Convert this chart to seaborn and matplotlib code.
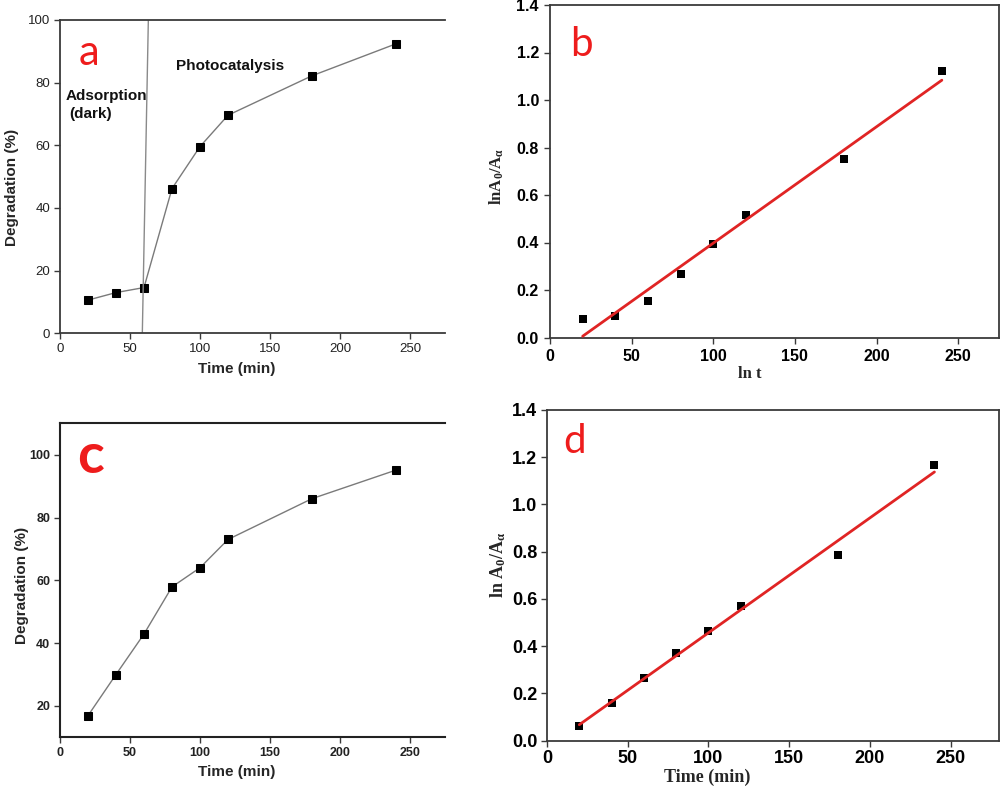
import numpy as np
import pandas as pd
import matplotlib
matplotlib.use("Agg")
import matplotlib.pyplot as plt
import seaborn as sns

# ---------------- data ----------------
time_min = [20, 40, 60, 80, 100, 120, 180, 240]
deg_a = [10.6, 13.0, 14.6, 46.2, 59.6, 69.6, 82.2, 92.4]
ln_b = [0.079, 0.090, 0.155, 0.269, 0.395, 0.515, 0.750, 1.122]
deg_c = [16.9, 30.0, 42.9, 57.9, 64.0, 73.0, 86.0, 95.1]
ln_d = [0.063, 0.158, 0.265, 0.371, 0.464, 0.571, 0.784, 1.168]

sep_x = [58.8, 63.1]   # dark / light separator in panel a
sep_y = [0, 100]

x_ticks = [0, 50, 100, 150, 200, 250]
y_ticks_a = [0, 20, 40, 60, 80, 100]
y_ticks_c = [20, 40, 60, 80, 100]
y_ticks_ln = [0.0, 0.2, 0.4, 0.6, 0.8, 1.0, 1.2, 1.4]

# ---------------- style ----------------
sns.set_theme(style="white")
plt.rcParams['font.family'] = ['Liberation Sans', 'DejaVu Sans']
plt.rcParams['mathtext.fontset'] = 'custom'
plt.rcParams['mathtext.rm'] = 'Liberation Serif:bold'
plt.rcParams['mathtext.it'] = 'Liberation Serif:italic:bold'
plt.rcParams['mathtext.bf'] = 'Liberation Serif:bold'
plt.rcParams['mathtext.default'] = 'rm'

W, H = 1004, 790
fig = plt.figure(figsize=(W / 100, H / 100), dpi=100)
RED = '#ee1c1c'
LINE_RED = '#e02424'
SPINE = '#3a3a3a'


def px_axes(l, t, r, b):
    ax = fig.add_axes([l / W, 1 - b / H, (r - l) / W, (b - t) / H])
    ax._px = (l, t, r, b)
    return ax


def fx(ax, x):
    l, t, r, b = ax._px
    return (x - l) / (r - l)


def fy(ax, y):
    l, t, r, b = ax._px
    return (b - y) / (b - t)


def style_ticks(ax, size, weight, color='black', pad=4):
    ax.tick_params(axis='both', which='major', direction='out', length=4, width=1,
                   color=SPINE, bottom=True, left=True, top=False, right=False,
                   labelsize=size, labelcolor=color, pad=pad)
    for lab in ax.get_xticklabels() + ax.get_yticklabels():
        lab.set_fontweight(weight)


# ---------------- panel a ----------------
axa = px_axes(60, 20, 445, 333.3)
sns.lineplot(x=time_min, y=deg_a, ax=axa, color='#7a7a7a', lw=1.0, marker='s',
             markersize=5.6, markerfacecolor='black', markeredgecolor='black',
             errorbar=None)
axa.plot(sep_x, sep_y, color='#8a8a8a', lw=1.0)
axa.set_xlim(0, 275)
axa.set_ylim(0, 100)
axa.set_xticks(x_ticks)
axa.set_yticks(y_ticks_a)
for s in ['left', 'bottom', 'top']:
    axa.spines[s].set_color(SPINE)
    axa.spines[s].set_linewidth(1.3)
axa.spines['right'].set_visible(False)
style_ticks(axa, 9.5, 'normal', color='#222222', pad=3)
axa.set_xlabel('Time (min)', fontsize=11, fontweight='bold')
axa.set_ylabel('Degradation (%)', fontsize=11, fontweight='bold')
axa.xaxis.set_label_coords(fx(axa, 237), fy(axa, 362))
axa.yaxis.set_label_coords(fx(axa, 19), fy(axa, 187))
axa.text(fx(axa, 79), fy(axa, 65), 'a', transform=axa.transAxes, color=RED,
         fontsize=30, family=['Lato', 'DejaVu Sans'], va='baseline')
axa.text(fx(axa, 176), fy(axa, 70.5), 'Photocatalysis', transform=axa.transAxes,
         fontsize=11, fontweight='bold', va='baseline', color='#111111')
axa.text(fx(axa, 65.5), fy(axa, 100.5), 'Adsorption', transform=axa.transAxes,
         fontsize=11, fontweight='bold', va='baseline', color='#111111')
axa.text(fx(axa, 69), fy(axa, 118.5), '(dark)', transform=axa.transAxes,
         fontsize=11, fontweight='bold', va='baseline', color='#111111')

# ---------------- panel b ----------------
axb = px_axes(550, 5, 999, 337.5)
sns.regplot(x=time_min, y=ln_b, ax=axb, ci=None, marker='s',
            scatter_kws=dict(color='black', s=31, linewidths=0, alpha=1, zorder=2),
            line_kws=dict(color=LINE_RED, lw=2.0, zorder=3))
axb.set_xlim(0, 275)
axb.set_ylim(0, 1.4)
axb.set_xticks(x_ticks)
axb.set_yticks(y_ticks_ln)
axb.set_yticklabels([f'{v:.1f}' for v in y_ticks_ln])
for s in axb.spines.values():
    s.set_color(SPINE)
    s.set_linewidth(1.3)
style_ticks(axb, 11.5, 'bold', pad=4)
axb.set_xlabel('ln t', fontsize=12, fontweight='bold', family='Liberation Serif')
axb.set_ylabel(r'lnA$_0$/A$_\alpha$', fontsize=12, fontweight='bold',
               family='Liberation Serif')
axb.xaxis.set_label_coords(fx(axb, 750), fy(axb, 366))
axb.yaxis.set_label_coords(fx(axb, 506), fy(axb, 176))
axb.text(fx(axb, 570), fy(axb, 56.5), 'b', transform=axb.transAxes, color=RED,
         fontsize=29, family=['Lato', 'DejaVu Sans'], va='baseline')

# ---------------- panel c ----------------
axc = px_axes(60, 423.3, 445, 737.3)
sns.lineplot(x=time_min, y=deg_c, ax=axc, color='#7a7a7a', lw=1.0, marker='s',
             markersize=5.6, markerfacecolor='black', markeredgecolor='black',
             errorbar=None)
axc.set_xlim(0, 275)
axc.set_ylim(10, 110)
axc.set_xticks(x_ticks)
axc.set_yticks(y_ticks_c)
for s in ['left', 'bottom', 'top']:
    axc.spines[s].set_color('#222222')
    axc.spines[s].set_linewidth(1.5)
axc.spines['right'].set_visible(False)
style_ticks(axc, 9, 'bold', color='#222222', pad=3)
axc.set_xlabel('Time (min)', fontsize=11, fontweight='bold')
axc.set_ylabel('Degradation (%)', fontsize=11, fontweight='bold')
axc.xaxis.set_label_coords(fx(axc, 237), fy(axc, 765))
axc.yaxis.set_label_coords(fx(axc, 29), fy(axc, 585))
axc.text(fx(axc, 77), fy(axc, 473.5), 'c', transform=axc.transAxes, color=RED,
         fontsize=40, fontweight='bold', family=['Lato', 'DejaVu Sans'], va='baseline')

# ---------------- panel d ----------------
axd = px_axes(547, 410, 999, 740.5)
sns.regplot(x=time_min, y=ln_d, ax=axd, ci=None, marker='s',
            scatter_kws=dict(color='black', s=31, linewidths=0, alpha=1, zorder=2),
            line_kws=dict(color=LINE_RED, lw=2.0, zorder=3))
axd.set_xlim(0, 280)
axd.set_ylim(0, 1.4)
axd.set_xticks(x_ticks)
axd.set_yticks(y_ticks_ln)
axd.set_yticklabels([f'{v:.1f}' for v in y_ticks_ln])
for s in axd.spines.values():
    s.set_color(SPINE)
    s.set_linewidth(1.3)
style_ticks(axd, 13, 'bold', pad=3)
axd.set_xlabel('Time (min)', fontsize=13, fontweight='bold', family='Liberation Serif')
axd.set_ylabel(r'ln A$_0$/A$_\alpha$', fontsize=13, fontweight='bold',
               family='Liberation Serif')
axd.xaxis.set_label_coords(fx(axd, 707), fy(axd, 769))
axd.yaxis.set_label_coords(fx(axd, 508), fy(axd, 565))
axd.text(fx(axd, 563), fy(axd, 453), 'd', transform=axd.transAxes, color=RED,
         fontsize=29, family=['Lato', 'DejaVu Sans'], va='baseline')

fig.savefig('out.png', dpi=100)
